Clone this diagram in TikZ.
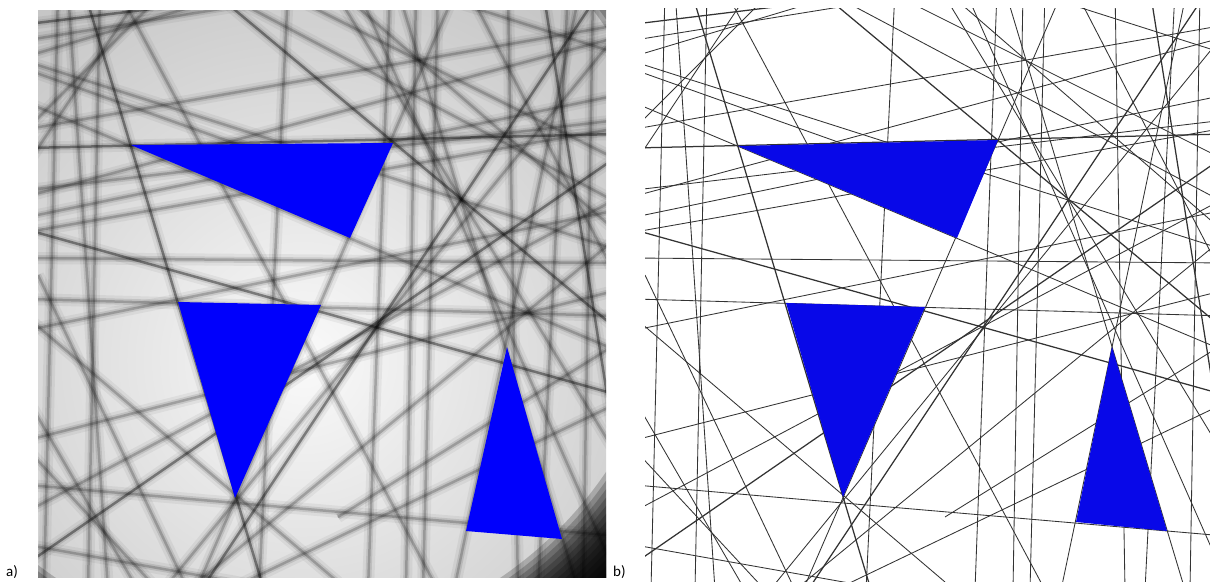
\documentclass[tikz,border=0pt]{standalone}
\usepackage{fontspec}
\setmainfont{Carlito}

\definecolor{triblue}{RGB}{0,0,252}
\definecolor{triblueb}{RGB}{8,8,232}

% u1/v1/u2/v2/weight, panel coordinates
\newcommand{\raylist}{%
-10/148/580/134/2, -10/258/580/263/1, -10/299/580/316/1, -10/485/580/536/1,
185/0/580/330/2, 46/-10/226/590/2, 418/-10/158/590/1, 542/-10/416/590/1,
360/-10/540/590/1, -10/103/580/351/1, 0/275/150/590/1, 163/590/563/-10/2,
62/-10/50/590/1, 20/-10/6/590/1, 250/-10/221/590/1, 352/-10/330/590/1,
378/-10/368/590/1, 505/-10/600/590/2, -10/24/220/-4/2, -10/56/190/-4/1,
-10/62/580/250/1, -10/128/130/-12/1, -10/217/580/95/1, -10/232/580/128/1,
-10/129/580/25/1, -10/318/300/582/1, 190/590/580/403/1, 150/590/580/237/1,
-10/563/580/156/2, 80/-10/400/590/1, -10/545/300/600/1, -10/400/100/590/1,
300/517/580/343/1, 296/-10/600/490/1, -10/196/580/37/1, 150/-25/580/203/1,
240/-10/580/160/1, 530/-10/500/590/1, 555/-10/545/590/1, 320/-10/585/590/1,
615/-10/125/590/1, -10/511/580/198/1, -10/230/580/395/2, 400/-10/385/590/1,
-10/40/300/-10/1, 105/-10/-10/163/1, -10/70/300/180/1, -10/190/580/120/1,
430/-10/580/280/1, 600/60/380/-10/1, 30/-10/70/590/1, -10/330/580/210/1,
470/-10/480/590/1, 600/250/300/-10/1, -10/440/580/290/1, 120/590/-10/450/1}

\begin{document}
\begin{tikzpicture}[x=1pt,y=-1pt]
\useasboundingbox (0,0) rectangle (1210,581);

\begin{scope}[shift={(38,0)}]
\clip (0,10) rectangle (568,577);
\fill[gray!45] (0,10) rectangle (568,577);
\shade[inner color=gray!4, outer color=gray!45] (265,360) circle (430);
\foreach \ua/\va/\ub/\vb/\w in \raylist {
  \draw[black, opacity=0.05, line width=12pt] (\ua,\va) -- (\ub,\vb);
  \draw[black, opacity=0.10, line width=6pt] (\ua,\va) -- (\ub,\vb);
  \draw[black, opacity={0.2*\w}, line width=2.5pt] (\ua,\va) -- (\ub,\vb);
}
\foreach \r in {396,401,...,470}
  \fill[black, opacity=0.2, even odd rule] (-20,-20) rectangle (600,600) (240,250) circle (\r);
\fill[triblue] (93,145) -- (355,143) -- (312,238) -- cycle;
\fill[triblue] (140,302) -- (283,305) -- (197,498) -- cycle;
\fill[triblue] (469,347) -- (428,531) -- (524,539) -- cycle;
\end{scope}

\begin{scope}[shift={(645,0)}]
\clip (0,8) rectangle (565,581);
\fill[white] (0,8) rectangle (565,581);
\foreach \ua/\va/\ub/\vb/\w in \raylist
  \draw[black!80, line width={0.45pt+0.4pt*\w}] (\ua,\va) -- (\ub,\vb);
\fill[triblueb] (93,146) -- (353,140) -- (312,238) -- cycle;
\fill[triblueb] (141,303) -- (280,307) -- (198,497) -- cycle;
\fill[triblueb] (467,347) -- (431,522) -- (522,531) -- cycle;
\end{scope}

\node[anchor=base west, font=\fontsize{15}{18}\selectfont, inner sep=0pt] (labela) at (6,576) {a)};
\node[anchor=base west, font=\fontsize{15}{18}\selectfont, inner sep=0pt] (labelb) at (613,576) {b)};
\end{tikzpicture}
\end{document}
